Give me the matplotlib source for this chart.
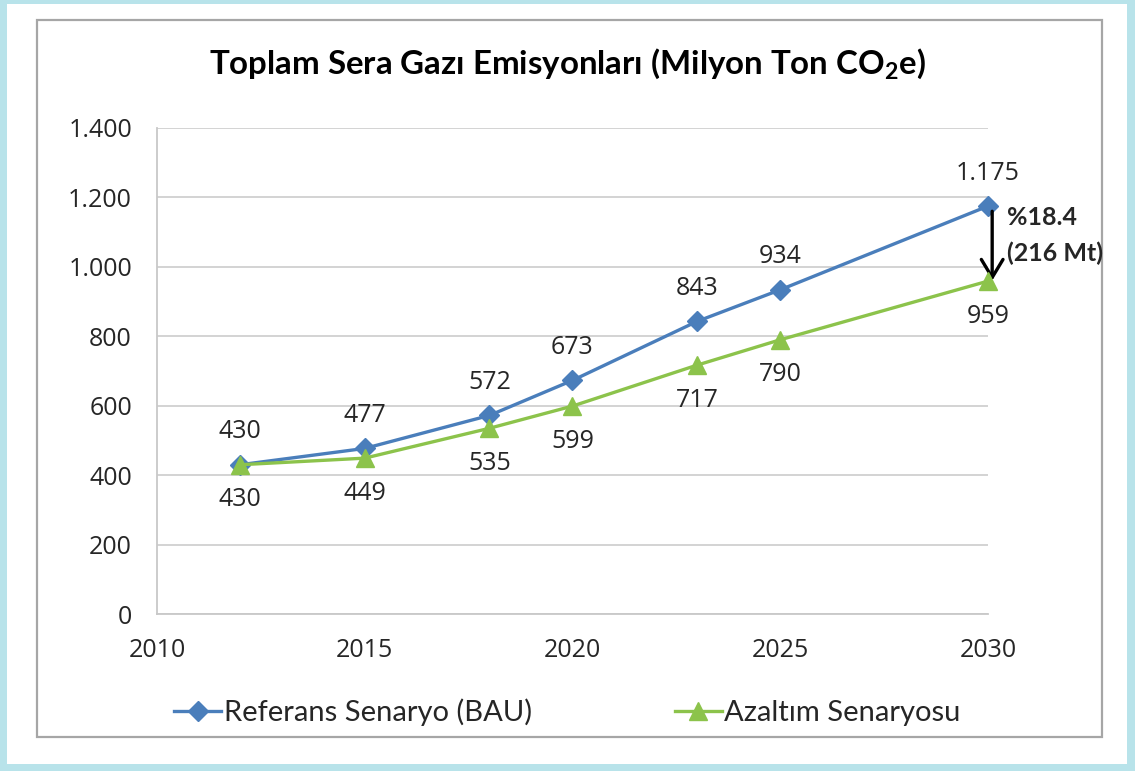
import matplotlib
matplotlib.use('Agg')
import matplotlib.pyplot as plt
from matplotlib.patches import Rectangle
from matplotlib.ticker import FuncFormatter

# Data
years = [2012, 2015, 2018, 2020, 2023, 2025, 2030]
bau = [430, 477, 572, 673, 843, 934, 1175]
reduced = [430, 449, 535, 599, 717, 790, 959]
bau_labels = ['430', '477', '572', '673', '843', '934', '1.175']
reduced_labels = ['430', '449', '535', '599', '717', '790', '959']
x_ticks = [2010, 2015, 2020, 2025, 2030]
y_ticks = [0, 200, 400, 600, 800, 1000, 1200, 1400]

blue = '#4a7ebb'
green = '#8cc34b'
text_col = '#262626'

plt.rcParams['font.family'] = ['Open Sans', 'DejaVu Sans']
plt.rcParams['mathtext.default'] = 'regular'

fig = plt.figure(figsize=(11.35, 7.71), dpi=100, facecolor='#b8e3ea')

# white page + grey chart frame
fig.patches.append(Rectangle((0.0062, 0.0091), 0.9868, 0.9857, transform=fig.transFigure,
                             facecolor='white', edgecolor='none', zorder=-2))
fig.patches.append(Rectangle((0.0326, 0.0441), 0.9383, 0.930, transform=fig.transFigure,
                             facecolor='none', edgecolor='#a6a6a6', linewidth=1.6, zorder=-1))

ax = fig.add_axes([0.1383, 0.2036, 0.7322, 0.6304])
ax.set_zorder(2)
ax.set_facecolor('none')

ax.plot(years, bau, color=blue, linewidth=2.4, marker='D', markersize=10,
        label='Referans Senaryo (BAU)', zorder=3, clip_on=False)
ax.plot(years, reduced, color=green, linewidth=2.4, marker='^', markersize=13,
        label='Azaltım Senaryosu', zorder=4, clip_on=False)

# data labels
for x, y, s in zip(years, bau, bau_labels):
    ax.annotate(s, (x, y), xytext=(0, 33), textcoords='offset pixels',
                ha='center', va='center', fontsize=18, color=text_col)
for x, y, s in zip(years, reduced, reduced_labels):
    ax.annotate(s, (x, y), xytext=(0, -35), textcoords='offset pixels',
                ha='center', va='center', fontsize=18, color=text_col)

# difference arrow
ax.annotate('', xy=(2030.1, 952), xytext=(2030.1, 1168), annotation_clip=False,
            arrowprops=dict(arrowstyle='->,head_length=0.5,head_width=0.3',
                            color='black', lw=2.4, mutation_scale=26))
ax.text(2030.45, 1089, '%18.4\n(216 Mt)', fontsize=18, fontweight='bold',
        family=['Lato', 'DejaVu Sans'], color=text_col, ha='left', va='center',
        linespacing=1.65)

ax.set_xlim(2010, 2030)
ax.set_ylim(0, 1400)
ax.set_xticks(x_ticks)
ax.set_yticks(y_ticks)
ax.yaxis.set_major_formatter(FuncFormatter(lambda v, p: f'{int(v):,}'.replace(',', '.')))
ax.tick_params(length=0, labelsize=18, labelcolor=text_col)
ax.tick_params(axis='y', pad=18)
ax.tick_params(axis='x', pad=17)
ax.grid(axis='y', color='#d0d0d0', linewidth=1.3)
ax.set_axisbelow(True)
for side in ['top', 'right']:
    ax.spines[side].set_visible(False)
for side in ['left', 'bottom']:
    ax.spines[side].set_color('#c8c8c8')
    ax.spines[side].set_linewidth(1.3)

fig.text(0.5, 0.917, 'Toplam Sera Gazı Emisyonları (Milyon Ton CO$_2$e)',
         ha='center', va='center', fontsize=23.8, fontweight='bold',
         family=['Lato', 'DejaVu Sans'], color='black')

fig.legend(loc='center', bbox_to_anchor=(0.5, 0.0765), ncol=2, frameon=False,
           prop={'family': ['Lato', 'DejaVu Sans'], 'size': 21},
           handlelength=1.6, handletextpad=0.1, columnspacing=4.9, labelcolor=text_col)

fig.savefig('out.png', dpi=100, facecolor=fig.get_facecolor())
